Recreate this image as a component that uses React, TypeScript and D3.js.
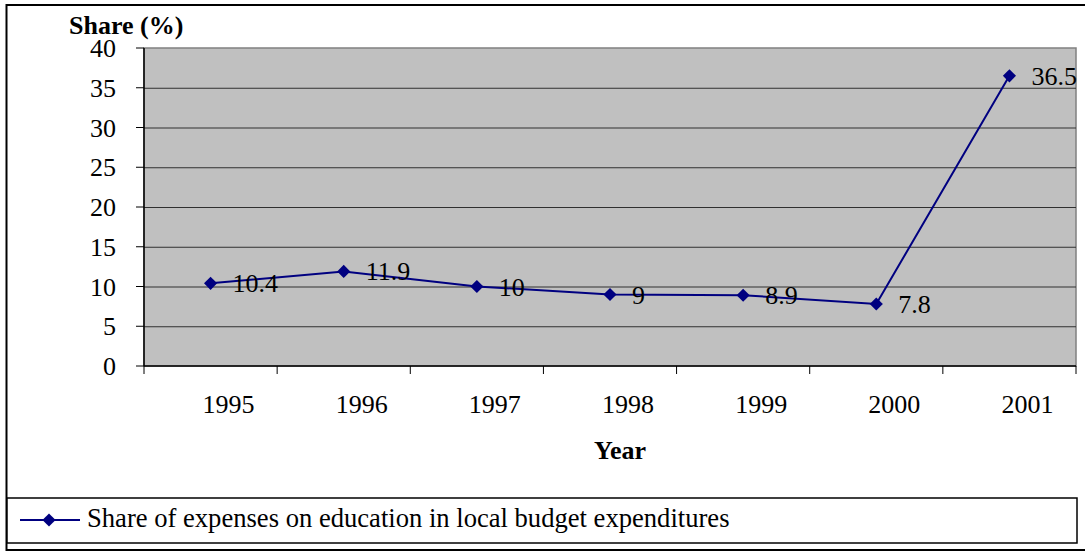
import { useEffect, useRef } from "react";
import * as d3 from "d3";

const years = ["1995", "1996", "1997", "1998", "1999", "2000", "2001"];
const shares = [10.4, 11.9, 10, 9, 8.9, 7.8, 36.5];
const yTicks = [0, 5, 10, 15, 20, 25, 30, 35, 40];
const seriesName = "Share of expenses on education in local budget expenditures";

export default function App() {
  const svgRef = useRef<SVGSVGElement | null>(null);

  useEffect(() => {
    if (!svgRef.current) return;
    const svg = d3.select(svgRef.current);
    svg.selectAll("*").remove();

    const font = "'Liberation Serif', 'Times New Roman', serif";
    const fs = 26;
    const navy = "#000080";
    const left = 144, right = 1076, top = 48, bottom = 366;

    // outer frame
    svg.append("rect").attr("x", 6.5).attr("y", 5).attr("width", 1090).attr("height", 545)
      .attr("fill", "#fff").attr("stroke", "#000").attr("stroke-width", 2);

    const x = d3.scaleBand<string>().domain(years).range([left, right]);
    const y = d3.scaleLinear().domain([0, 40]).range([bottom, top]);

    // plot area
    svg.append("rect").attr("x", left).attr("y", top).attr("width", right - left).attr("height", bottom - top)
      .attr("fill", "#C0C0C0").attr("stroke", "#808080").attr("stroke-width", 1.5);

    // gridlines
    svg.append("g").selectAll("line").data(yTicks.filter((t) => t > 0 && t < 40)).join("line")
      .attr("x1", left).attr("x2", right)
      .attr("y1", (d) => y(d) + 0.5).attr("y2", (d) => y(d) + 0.5)
      .attr("stroke", "#303030").attr("stroke-width", 1);

    // y axis
    const yAxis = svg.append("g");
    yAxis.append("line").attr("x1", left).attr("x2", left).attr("y1", top).attr("y2", bottom)
      .attr("stroke", "#000").attr("stroke-width", 1.5);
    yAxis.selectAll("line.tick").data(yTicks).join("line").attr("class", "tick")
      .attr("x1", left - 8).attr("x2", left).attr("y1", (d) => y(d)).attr("y2", (d) => y(d))
      .attr("stroke", "#000").attr("stroke-width", 1);
    yAxis.selectAll("text").data(yTicks).join("text")
      .attr("x", 116).attr("y", (d) => y(d)).attr("dy", "0.35em").attr("text-anchor", "end")
      .attr("font-family", font).attr("font-size", fs).text((d) => d);

    // x axis
    const xAxis = svg.append("g");
    xAxis.append("line").attr("x1", left).attr("x2", right).attr("y1", bottom).attr("y2", bottom)
      .attr("stroke", "#000").attr("stroke-width", 1.5);
    const bounds = [...years.map((d) => x(d) as number), right];
    xAxis.selectAll("line.tick").data(bounds).join("line").attr("class", "tick")
      .attr("x1", (d) => d).attr("x2", (d) => d).attr("y1", bottom).attr("y2", bottom + 8)
      .attr("stroke", "#000").attr("stroke-width", 1);
    xAxis.selectAll("text").data(years).join("text")
      .attr("x", (d) => (x(d) as number) + x.bandwidth() / 2 + 18).attr("y", 413)
      .attr("text-anchor", "middle").attr("font-family", font).attr("font-size", fs).text((d) => d);

    // titles
    svg.append("text").attr("x", 69).attr("y", 34).attr("font-family", font).attr("font-size", fs)
      .attr("font-weight", "bold").text("Share (%)");
    svg.append("text").attr("x", 620).attr("y", 459).attr("text-anchor", "middle").attr("font-family", font)
      .attr("font-size", fs).attr("font-weight", "bold").text("Year");

    // series
    const cx = (d: string) => (x(d) as number) + x.bandwidth() / 2;
    const line = d3.line<number>().x((_, i) => cx(years[i])).y((d) => y(d));
    svg.append("path").datum(shares).attr("d", line).attr("fill", "none")
      .attr("stroke", navy).attr("stroke-width", 2);

    const diamond = d3.symbol().type(d3.symbolDiamond2).size(110);
    svg.append("g").selectAll("path").data(shares).join("path")
      .attr("d", diamond)
      .attr("transform", (d, i) => `translate(${cx(years[i])},${y(d)})`)
      .attr("fill", navy);

    svg.append("g").selectAll("text").data(shares).join("text")
      .attr("x", (_, i) => cx(years[i]) + 22).attr("y", (d) => y(d)).attr("dy", "0.35em")
      .attr("font-family", font).attr("font-size", fs).text((d) => d);

    // legend
    const lg = svg.append("g");
    lg.append("rect").attr("x", 7).attr("y", 498).attr("width", 1070).attr("height", 45)
      .attr("fill", "#fff").attr("stroke", "#000").attr("stroke-width", 1.5);
    lg.append("line").attr("x1", 20).attr("x2", 80).attr("y1", 520).attr("y2", 520)
      .attr("stroke", navy).attr("stroke-width", 2);
    lg.append("path").attr("d", diamond).attr("transform", "translate(49,520)").attr("fill", navy);
    lg.append("text").attr("x", 87).attr("y", 527).attr("font-family", font)
      .attr("font-size", 26.6).text(seriesName);
  }, []);

  return (
    <svg ref={svgRef} width={1085} height={552}
      style={{ position: "absolute", left: 0, top: 0, background: "#fff" }} />
  );
}
